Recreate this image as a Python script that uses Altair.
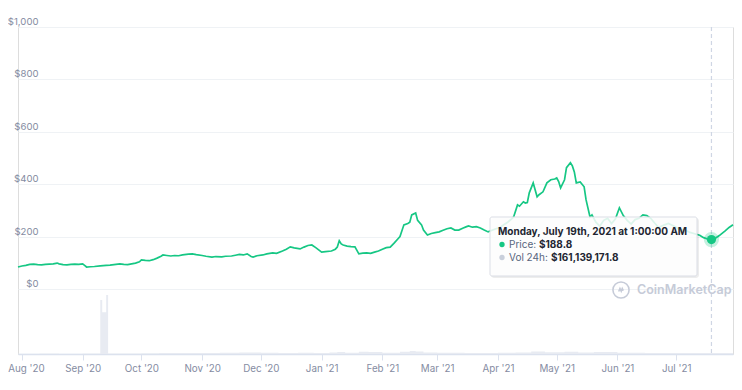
import altair as alt
import pandas as pd

# ---------------- data ----------------
price_dates = [
    "2020-07-30", "2020-08-01", "2020-08-03", "2020-08-05", "2020-08-07", "2020-08-09", "2020-08-11",
    "2020-08-13", "2020-08-15", "2020-08-17", "2020-08-19", "2020-08-20", "2020-08-22", "2020-08-24",
    "2020-08-26", "2020-08-28", "2020-08-30", "2020-09-01", "2020-09-02", "2020-09-03", "2020-09-05",
    "2020-09-07", "2020-09-10", "2020-09-13", "2020-09-15", "2020-09-18", "2020-09-20", "2020-09-22",
    "2020-09-24", "2020-09-26", "2020-09-28", "2020-09-30", "2020-10-01", "2020-10-03", "2020-10-05",
    "2020-10-07", "2020-10-09", "2020-10-11", "2020-10-12", "2020-10-14", "2020-10-16", "2020-10-18",
    "2020-10-20", "2020-10-22", "2020-10-25", "2020-10-27", "2020-10-29", "2020-11-01", "2020-11-03",
    "2020-11-06", "2020-11-08", "2020-11-11", "2020-11-13", "2020-11-16", "2020-11-18", "2020-11-20",
    "2020-11-22", "2020-11-24", "2020-11-26", "2020-11-27", "2020-11-29", "2020-12-02", "2020-12-04",
    "2020-12-07", "2020-12-09", "2020-12-12", "2020-12-14", "2020-12-16", "2020-12-18", "2020-12-21",
    "2020-12-23", "2020-12-25", "2020-12-27", "2020-12-29", "2021-01-01", "2021-01-03", "2021-01-06",
    "2021-01-08", "2021-01-09", "2021-01-10", "2021-01-11", "2021-01-12", "2021-01-14", "2021-01-16",
    "2021-01-18", "2021-01-20", "2021-01-22", "2021-01-24", "2021-01-26", "2021-01-28", "2021-01-30",
    "2021-02-01", "2021-02-03", "2021-02-05", "2021-02-07", "2021-02-09", "2021-02-10", "2021-02-12",
    "2021-02-14", "2021-02-15", "2021-02-16", "2021-02-18", "2021-02-19", "2021-02-21", "2021-02-22",
    "2021-02-24", "2021-02-26", "2021-02-28", "2021-03-02", "2021-03-04", "2021-03-06", "2021-03-08",
    "2021-03-10", "2021-03-12", "2021-03-14", "2021-03-16", "2021-03-17", "2021-03-19", "2021-03-21",
    "2021-03-23", "2021-03-25", "2021-03-27", "2021-03-29", "2021-03-31", "2021-04-02", "2021-04-04",
    "2021-04-06", "2021-04-08", "2021-04-09", "2021-04-11", "2021-04-12", "2021-04-14", "2021-04-15",
    "2021-04-16", "2021-04-17", "2021-04-19", "2021-04-21", "2021-04-22", "2021-04-24", "2021-04-26",
    "2021-04-28", "2021-04-30", "2021-05-01", "2021-05-02", "2021-05-03", "2021-05-05", "2021-05-06",
    "2021-05-08", "2021-05-09", "2021-05-10", "2021-05-11", "2021-05-13", "2021-05-15", "2021-05-16",
    "2021-05-18", "2021-05-19", "2021-05-21", "2021-05-23", "2021-05-25", "2021-05-27", "2021-05-29",
    "2021-05-31", "2021-06-02", "2021-06-04", "2021-06-06", "2021-06-08", "2021-06-10", "2021-06-12",
    "2021-06-14", "2021-06-16", "2021-06-18", "2021-06-20", "2021-06-22", "2021-06-25", "2021-06-27",
    "2021-06-30", "2021-07-03", "2021-07-05", "2021-07-08", "2021-07-10", "2021-07-13", "2021-07-15",
    "2021-07-17", "2021-07-19", "2021-07-21", "2021-07-23", "2021-07-26", "2021-07-28", "2021-07-30",
]
price_values = [
    84, 88, 90, 94, 95, 93, 92,
    94, 95, 96, 99, 96, 93, 92,
    94, 95, 94, 96, 90, 84, 85,
    86, 88, 90, 91, 94, 96, 94,
    93, 96, 99, 104, 111, 109, 108,
    112, 118, 125, 130, 128, 126, 128,
    127, 130, 133, 134, 131, 128, 125,
    122, 124, 123, 125, 126, 129, 132,
    130, 134, 124, 122, 127, 130, 134,
    138, 136, 145, 152, 161, 157, 153,
    160, 166, 168, 158, 141, 143, 145,
    152, 160, 184, 172, 168, 164, 162,
    161, 134, 137, 138, 136, 141, 145,
    152, 158, 160, 175, 192, 200, 245,
    250, 255, 283, 290, 262, 245, 225,
    206, 212, 215, 218, 224, 230, 233,
    225, 225, 232, 238, 241, 236, 238,
    233, 225, 218, 224, 230, 235, 245,
    255, 268, 275, 321, 316, 333, 328,
    330, 367, 405, 352, 360, 371, 405,
    417, 420, 424, 410, 386, 417, 463,
    482, 470, 447, 405, 409, 390, 340,
    275, 283, 255, 240, 262, 270, 250,
    268, 310, 280, 262, 248, 265, 270,
    283, 280, 270, 252, 235, 245, 250,
    240, 225, 228, 216, 212, 205, 196,
    191, 188.8, 194, 204, 222, 235, 245,
]

# 24h volume, billions of USD (step series)
vol_dates = [
    "2020-07-30", "2020-08-10", "2020-08-20", "2020-09-01", "2020-09-10", "2020-09-11", "2020-09-13",
    "2020-09-14", "2020-09-20", "2020-10-01", "2020-10-10", "2020-10-20", "2020-11-01", "2020-11-10",
    "2020-11-20", "2020-12-01", "2020-12-10", "2020-12-20", "2020-12-28", "2021-01-05", "2021-01-09",
    "2021-01-13", "2021-01-20", "2021-01-25", "2021-02-01", "2021-02-10", "2021-02-15", "2021-02-18",
    "2021-02-22", "2021-03-01", "2021-03-15", "2021-04-01", "2021-04-10", "2021-04-18", "2021-04-25",
    "2021-05-05", "2021-05-12", "2021-05-20", "2021-06-01", "2021-06-15", "2021-07-01", "2021-07-19",
    "2021-07-30",
]
vol_values = [
    0.06, 0.08, 0.06, 0.08, 9.7, 7.5, 10.6,
    0.10, 0.08, 0.12, 0.16, 0.20, 0.16, 0.24,
    0.28, 0.24, 0.16, 0.24, 0.20, 0.28, 0.36,
    0.24, 0.40, 0.36, 0.24, 0.40, 0.56, 0.44,
    0.28, 0.24, 0.20, 0.24, 0.28, 0.44, 0.32,
    0.40, 0.28, 0.36, 0.24, 0.16, 0.16, 0.16,
    0.15,
]

month_ticks = [
    (2020, 8), (2020, 9), (2020, 10), (2020, 11), (2020, 12), (2021, 1),
    (2021, 2), (2021, 3), (2021, 4), (2021, 5), (2021, 6), (2021, 7),
]
price_ticks = [0, 200, 400, 600, 800, 1000]

hover_date = "2021-07-19"
hover_price = 188.8
hover_volume = "$161,139,171.8"
tooltip_title = "Monday, July 19th, 2021 at 1:00:00 AM"
watermark = "CoinMarketCap"

# ---------------- styling ----------------
GREEN = "#16c784"
LABEL = "#858ca2"
GRID = "#eff2f5"
AXIS = "#dce2ee"
FONT = "Inter"

W, H = 715, 327
price_domain = [-248, 1000]
vol_domain = [0, 58.7]

price_df = pd.DataFrame({"date": price_dates, "price": price_values})
vol_df = pd.DataFrame({"date": vol_dates, "volume": vol_values})
hover_df = pd.DataFrame({"date": [hover_date], "price": [hover_price],
                         "top": [price_domain[1]], "bottom": [price_domain[0]]})
ann_df = pd.DataFrame({
    "title": [tooltip_title],
    "plabel": ["Price:"],
    "pval": [f"${hover_price}"],
    "vlabel": ["Vol 24h:"],
    "vval": [hover_volume],
    "wm": [watermark],
})

x_scale = alt.Scale(
    type="utc",
    domain=[alt.DateTime(year=2020, month=7, date=30, utc=True),
            alt.DateTime(year=2021, month=7, date=30, utc=True)],
)
x_axis = alt.Axis(
    values=[alt.DateTime(year=y, month=m, date=1, utc=True) for y, m in month_ticks],
    format="%b '%y", title=None, grid=False,
    domainColor=AXIS, tickColor=AXIS, tickSize=6, domainWidth=1.5,
    labelColor=LABEL, labelFont=FONT, labelFontSize=9.8, labelPadding=3,
    labelFlush=False,
    labelOffset={"condition": {"test": "datum.value < utc(2020, 7, 15)", "value": 4}, "value": 0},
)


def X():
    return alt.X("date:T", scale=x_scale, axis=x_axis)


y_price_scale = alt.Scale(domain=price_domain, nice=False, zero=False)
y_price_axis = alt.Axis(
    values=price_ticks, format="$,.0f", title=None, ticks=False, domain=False,
    grid=True, gridColor=GRID, gridWidth=1,
    labelColor=LABEL, labelFont=FONT, labelFontSize=9.6,
    labelPadding=-20, labelBaseline="bottom", labelOffset=-0.5,
)


def YP(field):
    return alt.Y(f"{field}:Q", scale=y_price_scale, axis=y_price_axis)


volume = alt.Chart(vol_df).mark_area(color="#e8ebf2", interpolate="step-after").encode(
    x=X(),
    y=alt.Y("volume:Q", scale=alt.Scale(domain=vol_domain, nice=False), axis=None),
)

line = alt.Chart(price_df).mark_line(color=GREEN, strokeWidth=1.7).encode(x=X(), y=YP("price"))

crosshair = alt.Chart(hover_df).mark_rule(color="#cfd6e4", strokeDash=[4, 3], strokeWidth=1.2).encode(
    x=X(), y=YP("top"), y2="bottom:Q"
)
halo = alt.Chart(hover_df).mark_point(filled=True, color=GREEN, opacity=0.25, size=230).encode(
    x=X(), y=YP("price")
)
dot = alt.Chart(hover_df).mark_point(filled=True, color=GREEN, opacity=1, size=85).encode(
    x=X(), y=YP("price")
)

price_group = alt.layer(line, crosshair, halo, dot)

# tooltip box and watermark (decoration)
shadow = alt.Chart(ann_df).mark_rect(color="#000000", opacity=0.07, cornerRadius=3).encode(
    x=alt.value(473), x2=alt.value(681), y=alt.value(191), y2=alt.value(251)
)
box = alt.Chart(ann_df).mark_rect(fill="white", fillOpacity=0.85, stroke="#dadde5",
                                  strokeWidth=1, cornerRadius=2).encode(
    x=alt.value(472), x2=alt.value(679), y=alt.value(190), y2=alt.value(249)
)
TF = 10
t_title = alt.Chart(ann_df).mark_text(align="left", baseline="middle", font=FONT, fontSize=TF,
                                      fontWeight="bold", color="#222531").encode(
    x=alt.value(480), y=alt.value(205), text="title:N"
)
d1 = alt.Chart(ann_df).mark_point(filled=True, color=GREEN, opacity=1, size=28).encode(
    x=alt.value(484), y=alt.value(217.5)
)
d2 = alt.Chart(ann_df).mark_point(filled=True, color="#c9cfdb", opacity=1, size=28).encode(
    x=alt.value(484), y=alt.value(230.5)
)
t_pl = alt.Chart(ann_df).mark_text(align="left", baseline="middle", font=FONT, fontSize=TF,
                                   color="#58667e").encode(x=alt.value(491), y=alt.value(217.5), text="plabel:N")
t_pv = alt.Chart(ann_df).mark_text(align="left", baseline="middle", font=FONT, fontSize=TF,
                                   fontWeight="bold", color="#222531").encode(
    x=alt.value(521), y=alt.value(217.5), text="pval:N")
t_vl = alt.Chart(ann_df).mark_text(align="left", baseline="middle", font=FONT, fontSize=TF,
                                   color="#58667e").encode(x=alt.value(491), y=alt.value(230.5), text="vlabel:N")
t_vv = alt.Chart(ann_df).mark_text(align="left", baseline="middle", font=FONT, fontSize=TF,
                                   fontWeight="bold", color="#222531").encode(
    x=alt.value(533), y=alt.value(230.5), text="vval:N")

WM = "#c6cbd8"
logo_ring = alt.Chart(ann_df).mark_point(shape="circle", filled=False, color=WM, size=260,
                                         strokeWidth=1.6, opacity=1).encode(
    x=alt.value(603), y=alt.value(263))
logo_m = alt.Chart(ann_df).mark_point(
    shape="M -0.55 0.35 L -0.25 -0.35 L 0.05 0.3 L 0.3 -0.35 L 0.55 0.15",
    filled=False, color=WM, size=70, strokeWidth=1.6, opacity=1).encode(
    x=alt.value(603), y=alt.value(263))
wm_text = alt.Chart(ann_df).mark_text(align="left", baseline="middle", font=FONT, fontSize=12.5,
                                      fontWeight=600, color=WM).encode(
    x=alt.value(619), y=alt.value(263), text="wm:N")

annotations = alt.layer(shadow, box, t_title, d1, d2, t_pl, t_pv, t_vl, t_vv, logo_ring, logo_m, wm_text)

chart = alt.layer(volume, price_group, annotations).resolve_scale(y="independent").properties(
    width=W, height=H,
    autosize=alt.AutoSizeParams(type="none"),
    padding={"left": 10, "top": 19, "right": 1, "bottom": 28},
).configure_view(stroke=None).configure(background="white")

chart.save("out.html", embed_options={"renderer": "svg", "actions": False})
